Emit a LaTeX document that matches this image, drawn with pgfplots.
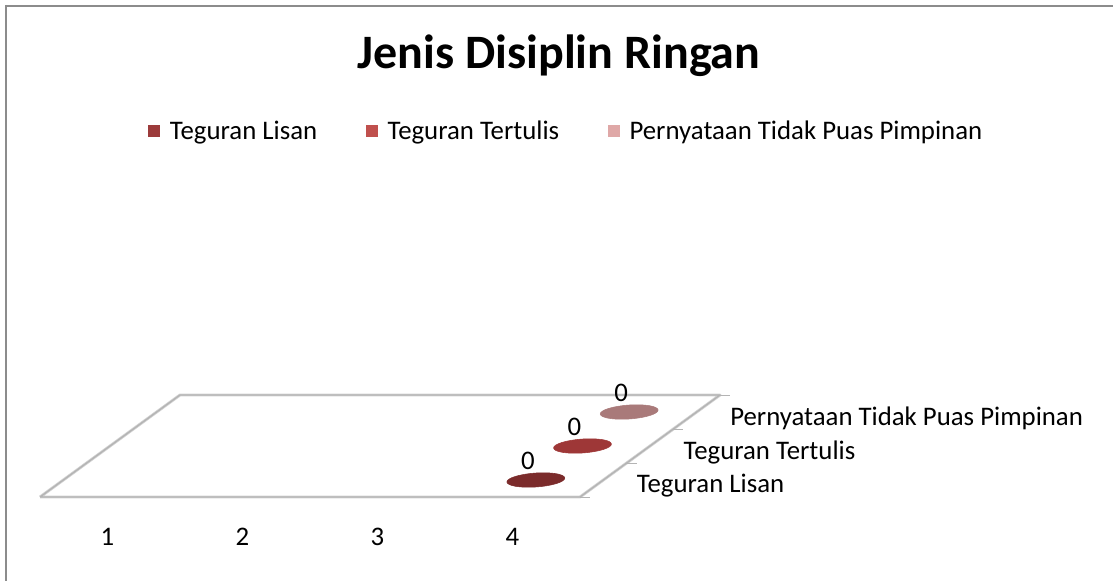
\documentclass[border=0pt]{standalone}
\usepackage{fontspec}
\setmainfont{Carlito}
\usepackage{pgfplots}
\pgfplotsset{compat=1.18}
\definecolor{lisanleg}{HTML}{9C3B3B}
\definecolor{tertulisleg}{HTML}{C0504D}
\definecolor{tidakleg}{HTML}{DFA8A7}
\definecolor{lisanbar}{HTML}{7B2B2B}
\definecolor{tertulisbar}{HTML}{9E3737}
\definecolor{tidakbar}{HTML}{A97A7A}
\definecolor{floorgray}{HTML}{B4B4B4}
\definecolor{framegray}{HTML}{8C8C8C}
\newcommand{\lbl}{\fontsize{20.1}{24}\selectfont}
\pgfplotsset{
  flatbar/.style={only marks, mark=*, mark size=21.75pt,
    mark options={rotate=4, yscale=0.24},
    point meta=z, nodes near coords,
    every node near coord/.append style={font=\lbl, anchor=center, xshift=-6pt, yshift=14pt, text=black},
  },
}

\begin{document}
\begin{tikzpicture}
\useasboundingbox (0,0) rectangle (834.75pt,-435.75pt);
% chart frame (only top and left edges show)
\draw[framegray, line width=1.5pt] (3.75pt,-4.5pt) -- (834.75pt,-4.5pt);
\draw[framegray, line width=1.5pt] (4.5pt,-3.75pt) -- (4.5pt,-435.75pt);

\node[font=\bfseries\fontsize{36}{42}\selectfont, anchor=base] at (419.25pt,-51.5pt) {Jenis Disiplin Ringan};

\begin{axis}[
  at={(-20.625pt,-372.75pt)}, anchor=origin,
  x={(101.25pt,0pt)}, y={(35pt,25.5pt)}, z={(0pt,100pt)},
  xmin=0, xmax=4.5, ymin=0, ymax=3, zmin=0, zmax=1,
  hide axis, clip=false,
  /pgf/number format/assume math mode=true,
  legend columns=3,
  legend style={draw=none, fill=none, inner sep=0pt, font=\lbl,
    at={(axis cs:1.3,0,2.745)}, anchor=west,
    column sep=5.25pt,
    /tikz/every even column/.append style={column sep=34.5pt}},
  legend image code/.code={\fill[#1] (0pt,-4.5pt) rectangle (9pt,4.5pt);},
]
\addlegendimage{draw=none, fill=lisanleg}
\addlegendentry{Teguran Lisan}
\addlegendimage{draw=none, fill=tertulisleg}
\addlegendentry{Teguran Tertulis}
\addlegendimage{draw=none, fill=tidakleg}
\addlegendentry{Pernyataan Tidak Puas Pimpinan}

% floor
\addplot3[forget plot, draw=floorgray!60, line width=2.2pt, line join=round] coordinates {
  (0.5,0,0) (4.5,0,0) (4.5,3,0) (0.5,3,0) (0.5,0,0)
};
\addplot3[forget plot, draw=floorgray, line width=1pt, line join=round] coordinates {
  (0.5,0,0) (4.5,0,0) (4.5,3,0) (0.5,3,0) (0.5,0,0)
};

% values (all zero, shown at category 4)
\addplot3[forget plot, flatbar, color=lisanbar] coordinates {(4,0.5,0)};
\addplot3[forget plot, flatbar, color=tertulisbar] coordinates {(4,1.5,0)};
\addplot3[forget plot, flatbar, color=tidakbar] coordinates {(4,2.5,0)};

% depth axis ticks and labels
\draw[floorgray] (axis cs:4.5,0,0) -- ++(7.5pt,0pt);
\draw[floorgray] (axis cs:4.5,1,0) -- ++(7.5pt,0pt);
\draw[floorgray] (axis cs:4.5,2,0) -- ++(7.5pt,0pt);
\draw[floorgray] (axis cs:4.5,3,0) -- ++(7.5pt,0pt);
\node[font=\lbl, anchor=west, inner sep=0pt, xshift=25pt, yshift=-4.5pt] at (axis cs:4.5,0.5,0) {Teguran Lisan};
\node[font=\lbl, anchor=west, inner sep=0pt, xshift=25pt, yshift=-4.5pt] at (axis cs:4.5,1.5,0) {Teguran Tertulis};
\node[font=\lbl, anchor=west, inner sep=0pt, xshift=25pt, yshift=-4.5pt] at (axis cs:4.5,2.5,0) {Pernyataan Tidak Puas Pimpinan};

% category labels
\node[font=\lbl, yshift=-30pt] at (axis cs:1,0,0) {1};
\node[font=\lbl, yshift=-30pt] at (axis cs:2,0,0) {2};
\node[font=\lbl, yshift=-30pt] at (axis cs:3,0,0) {3};
\node[font=\lbl, yshift=-30pt] at (axis cs:4,0,0) {4};
\end{axis}
\end{tikzpicture}
\end{document}
